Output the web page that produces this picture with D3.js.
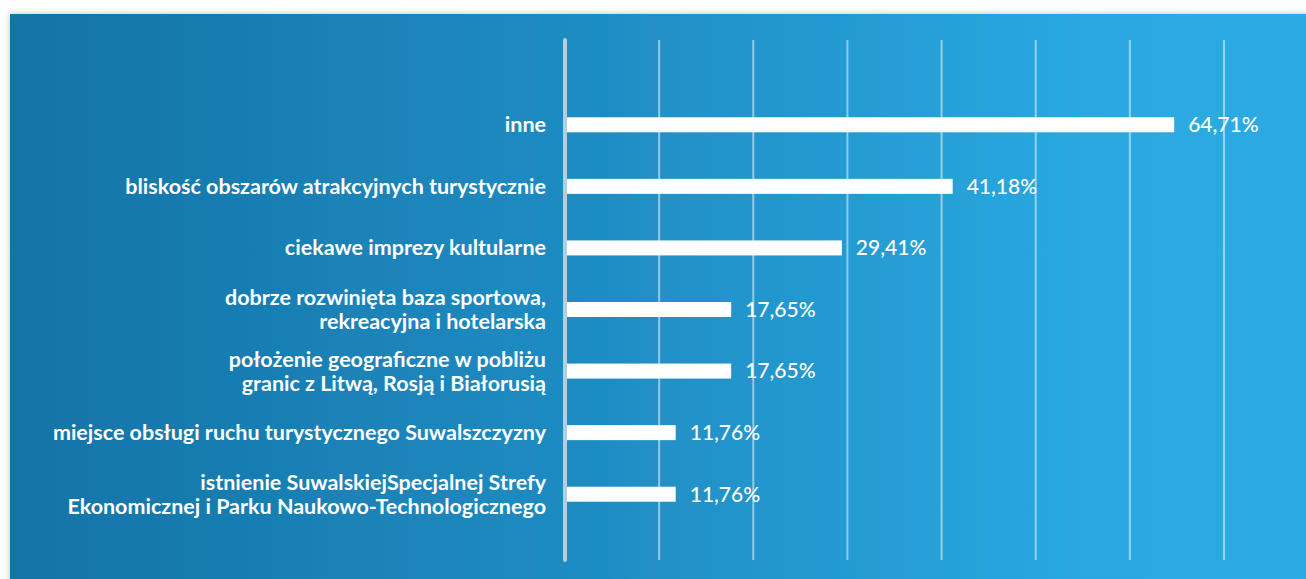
<!DOCTYPE html>
<html>
<head>
<meta charset="utf-8">
<script src="https://cdn.jsdelivr.net/npm/d3@7"></script>
<style>
  html, body { margin: 0; padding: 0; background: #fff; }
  svg { display: block; }
</style>
</head>
<body>
<div id="chart"></div>
<script>
// chart data
const categories = [
  ['inne'],
  ['bliskość obszarów atrakcyjnych turystycznie'],
  ['ciekawe imprezy kultularne'],
  ['dobrze rozwinięta baza sportowa,', 'rekreacyjna i hotelarska'],
  ['położenie geograficzne w pobliżu', 'granic z Litwą, Rosją i Białorusią'],
  ['miejsce obsługi ruchu turystycznego Suwalszczyzny'],
  ['istnienie SuwalskiejSpecjalnej Strefy', 'Ekonomicznej i Parku Naukowo-Technologicznego']
];
const values = [64.71, 41.18, 29.41, 17.65, 17.65, 11.76, 11.76];
const valueLabels = ['64,71%', '41,18%', '29,41%', '17,65%', '17,65%', '11,76%', '11,76%'];
const gridTicks = [0, 10, 20, 30, 40, 50, 60, 70];

const svgWidth = 1306, svgHeight = 579;
const panel = { x: 10, y: 14 };
const plot = { left: 565, right: 1224, top: 40, bottom: 560 };
const barHeight = 15;

const svg = d3.select('#chart')
  .append('svg')
  .attr('width', svgWidth)
  .attr('height', svgHeight);

const defs = svg.append('defs');
const grad = defs.append('linearGradient')
  .attr('id', 'bg')
  .attr('x1', '0%').attr('x2', '100%')
  .attr('y1', '0%').attr('y2', '0%');
grad.append('stop').attr('offset', '0%').attr('stop-color', '#1473a6');
grad.append('stop').attr('offset', '45%').attr('stop-color', '#1f8dc4');
grad.append('stop').attr('offset', '82%').attr('stop-color', '#29a9e0');
grad.append('stop').attr('offset', '100%').attr('stop-color', '#29abe2');

const shadow = defs.append('filter')
  .attr('id', 'shadow')
  .attr('x', '-5%').attr('y', '-5%')
  .attr('width', '110%').attr('height', '110%');
shadow.append('feDropShadow')
  .attr('dx', 0).attr('dy', 0)
  .attr('stdDeviation', 3)
  .attr('flood-color', '#000')
  .attr('flood-opacity', 0.25);

// panel
svg.append('rect')
  .attr('x', panel.x)
  .attr('y', panel.y)
  .attr('width', svgWidth - panel.x + 20)
  .attr('height', svgHeight - panel.y + 20)
  .attr('fill', 'url(#bg)')
  .attr('filter', 'url(#shadow)');

// scales
const x = d3.scaleLinear().domain([0, 70]).range([plot.left, plot.right]);
const y = d3.scalePoint()
  .domain(d3.range(categories.length))
  .range([94, 525])
  .padding(0.5);

// gridlines
svg.append('g')
  .selectAll('line')
  .data(gridTicks)
  .enter()
  .append('line')
  .attr('x1', d => x(d))
  .attr('x2', d => x(d))
  .attr('y1', plot.top)
  .attr('y2', plot.bottom)
  .attr('stroke', d => d === 0 ? '#b4cde2' : 'rgba(255,255,255,0.5)')
  .attr('stroke-width', d => d === 0 ? 4 : 2)
  .attr('stroke-linecap', d => d === 0 ? 'round' : 'butt');

// bars
svg.append('g')
  .selectAll('rect')
  .data(values)
  .enter()
  .append('rect')
  .attr('x', x(0) + 2)
  .attr('y', (d, i) => y(i) - barHeight / 2)
  .attr('width', d => x(d) - x(0) - 2)
  .attr('height', barHeight)
  .attr('fill', '#fff');

// value labels
svg.append('g')
  .selectAll('text')
  .data(values)
  .enter()
  .append('text')
  .attr('x', d => x(d) + 14)
  .attr('y', (d, i) => y(i))
  .attr('dy', '0.35em')
  .attr('fill', '#fff')
  .style('font-family', 'Lato, sans-serif')
  .style('font-size', '21px')
  .style('font-weight', 500)
  .text((d, i) => valueLabels[i]);

// category labels
const lineGap = 24;
const labels = svg.append('g')
  .selectAll('text')
  .data(categories)
  .enter()
  .append('text')
  .attr('text-anchor', 'end')
  .attr('fill', '#fff')
  .style('font-family', 'Lato, sans-serif')
  .style('font-size', '21.5px')
  .style('font-weight', 700);

labels.each(function(lines, i) {
  const t = d3.select(this);
  const start = y(i) - (lines.length - 1) * lineGap / 2;
  lines.forEach((line, j) => {
    t.append('tspan')
      .attr('x', 546)
      .attr('y', start + j * lineGap)
      .attr('dy', '0.35em')
      .text(line);
  });
});
</script>
</body>
</html>
